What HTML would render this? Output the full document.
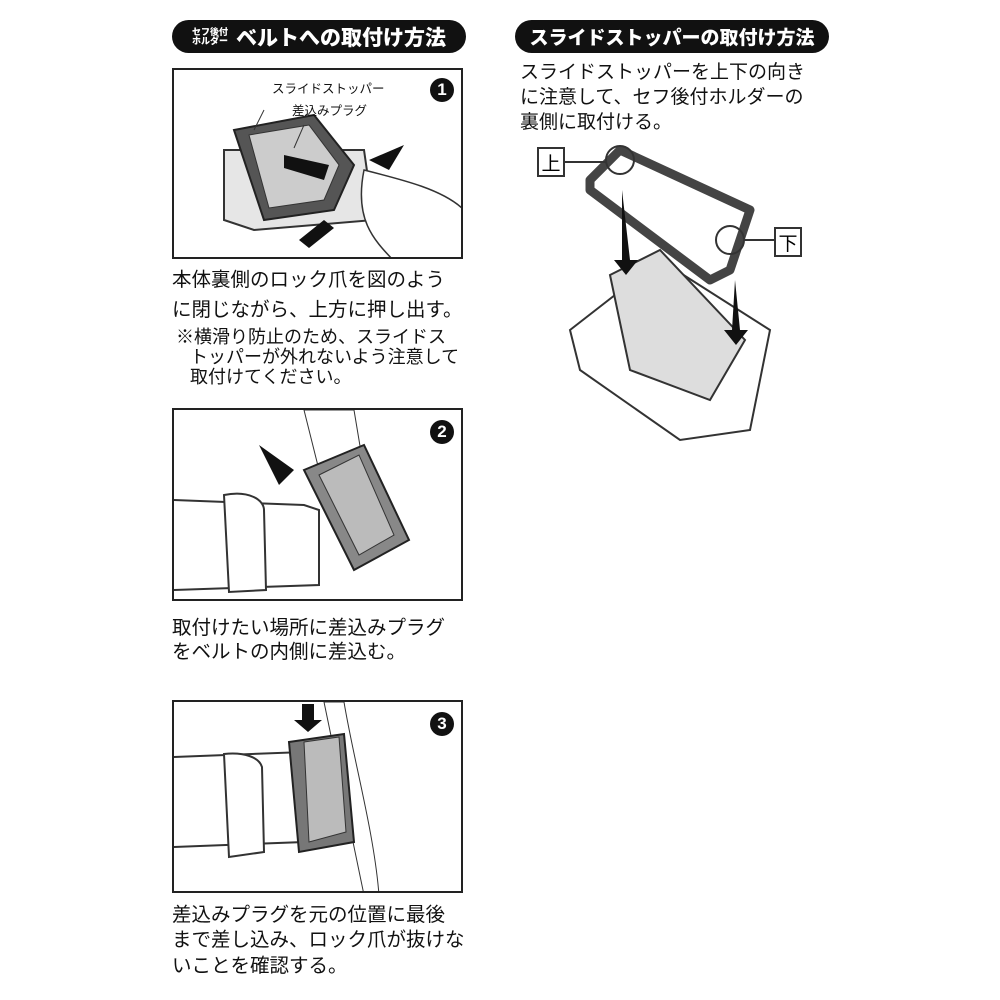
<!DOCTYPE html>
<html><head><meta charset="utf-8"><style>
body{margin:0;width:1000px;height:1000px;background:#fff;position:relative;font-family:"Liberation Sans","Noto Sans CJK JP",sans-serif;color:#111;overflow:hidden}
.pill{position:absolute;background:#111;color:#fff;border-radius:17px;height:33px;font-weight:900;display:flex;align-items:center;justify-content:center;white-space:nowrap}
.box{position:absolute;border:2px solid #222;box-sizing:border-box;background:#fff;overflow:hidden}
.t{position:absolute;white-space:nowrap;font-size:19.5px;line-height:30px}
.n{position:absolute;white-space:nowrap;font-size:18px;line-height:20px}
.num{position:absolute;width:24px;height:24px;border-radius:50%;background:#111;color:#fff;font-weight:bold;font-size:17px;text-align:center;line-height:24px}
</style></head><body>
<div class="pill" style="left:172px;top:20px;width:294px;font-size:21px"><span style="font-size:9px;line-height:9px;display:inline-block;margin-right:8px">セフ後付<br>ホルダー</span>ベルトへの取付け方法</div>
<div class="pill" style="left:515px;top:20px;width:314px;font-size:19px">スライドストッパーの取付け方法</div>

<div class="box" style="left:172px;top:68px;width:291px;height:191px">
<svg width="291" height="191" style="position:absolute;left:0;top:0">
<path d="M50 80 L50 150 L80 160 L200 150 L190 80 Z" fill="#e6e6e6" stroke="#333" stroke-width="2"/>
<path d="M60 60 L140 45 L180 95 L160 140 L90 150 Z" fill="#555" stroke="#222" stroke-width="2"/>
<path d="M75 65 L135 55 L165 95 L150 130 L95 138 Z" fill="#ccc" stroke="#333"/>
<path d="M110 85 L155 95 L150 110 L110 98 Z" fill="#111"/>
<path d="M195 90 L230 75 L215 100 Z" fill="#111"/>
<path d="M125 170 L150 150 L160 158 L135 178Z" fill="#111"/>
<path d="M190 100 C230 110 270 120 290 140 L290 191 L220 191 C200 170 180 150 190 100Z" fill="#fff" stroke="#333" stroke-width="1.5"/>
<line x1="90" y1="40" x2="80" y2="60" stroke="#333"/><line x1="130" y1="55" x2="120" y2="78" stroke="#333"/>
</svg>
<div style="position:absolute;left:98px;top:8px;font-size:12.5px">スライドストッパー</div>
<div style="position:absolute;left:118px;top:30px;font-size:12.5px">差込みプラグ</div>
<div class="num" style="left:256px;top:8px">1</div>
</div>
<div class="t" style="left:172px;top:265px">本体裏側のロック爪を図のよう</div>
<div class="t" style="left:172px;top:295px">に閉じながら、上方に押し出す。</div>
<div class="n" style="left:176px;top:327px">※横滑り防止のため、スライドス</div>
<div class="n" style="left:190px;top:347px">トッパーが外れないよう注意して</div>
<div class="n" style="left:190px;top:367px">取付けてください。</div>

<div class="box" style="left:172px;top:408px;width:291px;height:193px">
<svg width="291" height="193" style="position:absolute;left:0;top:0">
<path d="M0 90 L130 95 L145 100 L145 175 L0 180" fill="#fff" stroke="#333" stroke-width="2"/>
<path d="M130 0 L180 0 L200 120 L160 120 Z" fill="#fff" stroke="#333"/>
<path d="M50 85 C75 80 90 90 90 100 L92 180 L55 182 Z" fill="#fff" stroke="#333" stroke-width="2"/>
<path d="M130 60 L190 35 L235 130 L180 160 Z" fill="#888" stroke="#222" stroke-width="2"/>
<path d="M145 65 L185 45 L220 125 L185 145 Z" fill="#bbb" stroke="#333"/>
<path d="M85 35 L105 75 L120 60 Z" fill="#111"/>
</svg>
<div class="num" style="left:256px;top:10px">2</div>
</div>
<div class="t" style="left:172px;top:613px">取付けたい場所に差込みプラグ</div>
<div class="t" style="left:172px;top:637px">をベルトの内側に差込む。</div>

<div class="box" style="left:172px;top:700px;width:291px;height:193px">
<svg width="291" height="193" style="position:absolute;left:0;top:0">
<path d="M0 55 L130 50 L130 140 L0 145" fill="#fff" stroke="#333" stroke-width="2"/>
<path d="M150 0 L170 0 C180 60 200 130 205 193 L190 193 Z" fill="#fff" stroke="#333"/>
<path d="M50 52 C70 50 85 55 88 65 L90 150 L55 155 Z" fill="#fff" stroke="#333" stroke-width="2"/>
<path d="M115 40 L170 32 L180 140 L125 150 Z" fill="#777" stroke="#222" stroke-width="2"/>
<path d="M130 40 L165 35 L172 130 L135 140 Z" fill="#bbb" stroke="#333"/>
<path d="M128 2 L140 2 L140 18 L148 18 L134 30 L120 18 L128 18Z" fill="#111"/>
</svg>
<div class="num" style="left:256px;top:10px">3</div>
</div>
<div class="t" style="left:172px;top:900px">差込みプラグを元の位置に最後</div>
<div class="t" style="left:172px;top:925px">まで差し込み、ロック爪が抜けな</div>
<div class="t" style="left:172px;top:951px">いことを確認する。</div>

<div class="t" style="left:520px;top:60px;font-size:19px;line-height:25px">スライドストッパーを上下の向き<br>に注意して、セフ後付ホルダーの<br>裏側に取付ける。</div>

<svg width="300" height="310" style="position:absolute;left:530px;top:140px">
<path d="M40 190 L130 120 L240 190 L220 290 L150 300 L50 230 Z" fill="#fff" stroke="#333" stroke-width="2"/>
<path d="M80 135 L130 110 L215 200 L180 260 L100 230 Z" fill="#ddd" stroke="#333" stroke-width="2"/>
<path d="M60 40 L90 10 L220 70 L200 130 L180 140 L60 50 Z" fill="none" stroke="#444" stroke-width="9" stroke-linejoin="round"/>
<path d="M92 50 L100 120 L108 120 L96 135 L84 120 L92 120Z" fill="#111"/>
<path d="M205 140 L210 190 L218 190 L206 205 L194 190 L202 190Z" fill="#111"/>
<circle cx="90" cy="20" r="14" fill="none" stroke="#333" stroke-width="2"/>
<circle cx="200" cy="100" r="14" fill="none" stroke="#333" stroke-width="2"/>
<line x1="34" y1="22" x2="76" y2="22" stroke="#333" stroke-width="2"/>
<line x1="214" y1="100" x2="245" y2="100" stroke="#333" stroke-width="2"/>
<rect x="8" y="8" width="26" height="28" fill="#fff" stroke="#333" stroke-width="2"/>
<text x="21" y="30" font-size="19" text-anchor="middle" font-family="Liberation Sans, Noto Sans CJK JP, sans-serif">上</text>
<rect x="245" y="88" width="26" height="28" fill="#fff" stroke="#333" stroke-width="2"/>
<text x="258" y="110" font-size="19" text-anchor="middle" font-family="Liberation Sans, Noto Sans CJK JP, sans-serif">下</text>
</svg>
</body></html>
